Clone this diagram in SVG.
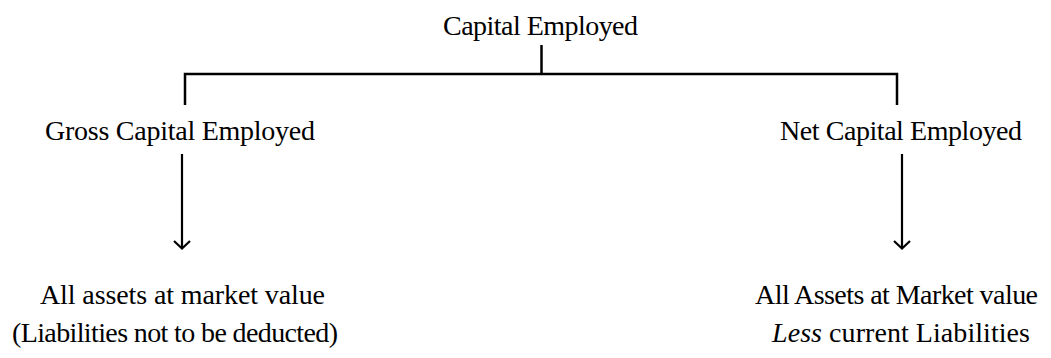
<svg xmlns="http://www.w3.org/2000/svg" width="1051" height="358" viewBox="0 0 1051 358">
<style>
text{font-family:"Liberation Serif","Times New Roman",serif;font-size:28px;fill:#000;text-anchor:middle}
.ln{stroke:#000;stroke-width:2.5;fill:none}
.ar{stroke:#000;stroke-width:2.2;fill:none;marker-end:url(#chev)}
</style>
<defs>
<marker id="chev" viewBox="0 0 20 20" refX="10" refY="18" markerWidth="20" markerHeight="20" markerUnits="userSpaceOnUse" orient="auto-start-reverse">
<path d="M2,11 L10,18 L18,11" stroke="#000" stroke-width="2.2" fill="none"/>
</marker>
</defs>
<rect width="1051" height="358" fill="#fff"/>
<g id="connectors">
<path class="ln" d="M541.5,45 V74 M185,105 V74 H897 V105"/>
<path d="M182,154 V247.5" stroke="#000" stroke-width="2.2" fill="none"/>
<path d="M174,241 L182,248.5 L190,241" stroke="#000" stroke-width="2.2" fill="none"/>
<path d="M902,154 V247.5" stroke="#000" stroke-width="2.2" fill="none"/>
<path d="M894,241 L902,248.5 L910,241" stroke="#000" stroke-width="2.2" fill="none"/>
</g>
<g id="root"><text x="540.5" y="35" textLength="195" lengthAdjust="spacing">Capital Employed</text></g>
<g id="gross"><text x="180" y="140" textLength="270" lengthAdjust="spacing">Gross Capital Employed</text></g>
<g id="net"><text x="901" y="140" textLength="242" lengthAdjust="spacing">Net Capital Employed</text></g>
<g id="gross-detail">
<text x="182.5" y="304" textLength="285" lengthAdjust="spacing">All assets at market value</text>
<text x="175" y="342" textLength="326" lengthAdjust="spacing">(Liabilities not to be deducted)</text>
</g>
<g id="net-detail">
<text x="896.5" y="304" textLength="283" lengthAdjust="spacing">All Assets at Market value</text>
<text x="901" y="342" textLength="258" lengthAdjust="spacing"><tspan font-style="italic">Less</tspan> current Liabilities</text>
</g>
</svg>
